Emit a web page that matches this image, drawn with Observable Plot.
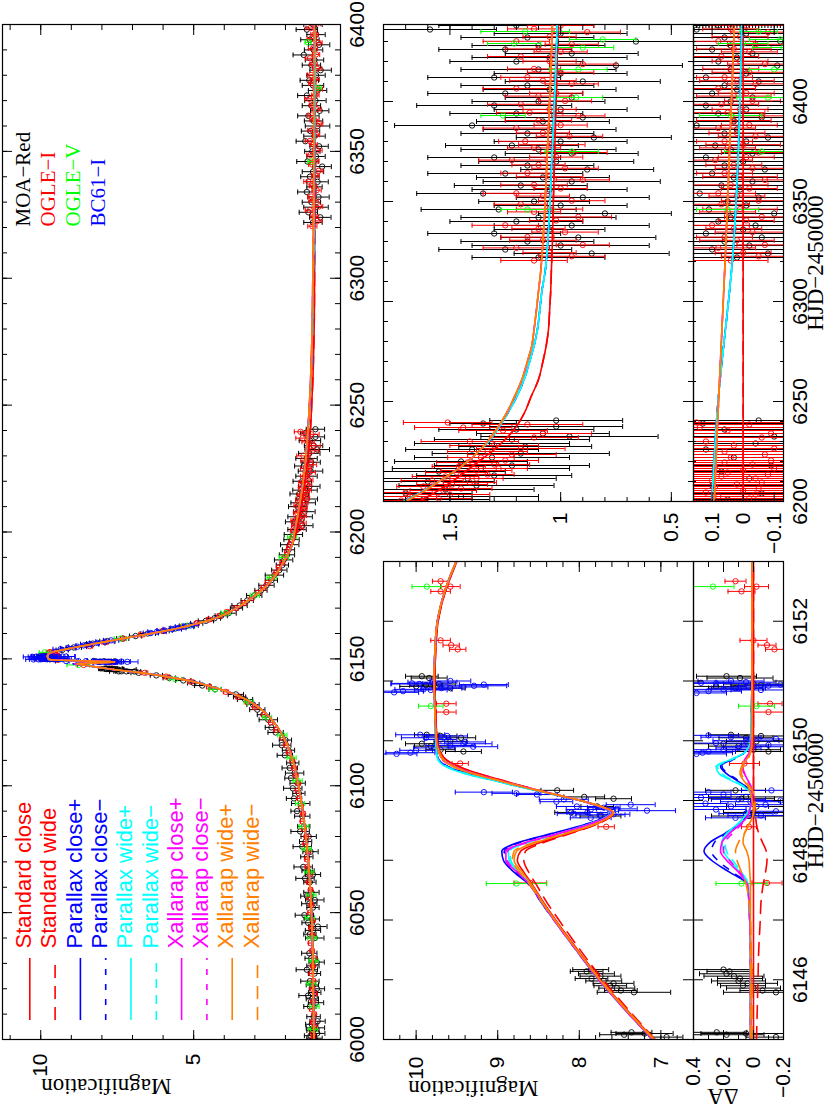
<!DOCTYPE html>
<html><head><meta charset="utf-8">
<script src="https://cdn.jsdelivr.net/npm/d3@7"></script>
<script src="https://cdn.jsdelivr.net/npm/@observablehq/plot@0.6"></script>
<style>
html,body{margin:0;padding:0;background:#fff;overflow:hidden;width:830px;height:1107px;}
#fig{position:absolute;left:0;top:0;width:1107px;height:830px;transform-origin:0 0;transform:translate(0px,1107px) rotate(-90deg);background:#fff;}
</style></head><body><div id="fig"></div>
<script>
// ---------------- categories ----------------
const modelNames = ["Standard close","Standard wide","Parallax close+","Parallax close\u2212","Parallax wide+","Parallax wide\u2212","Xallarap close+","Xallarap close\u2212","Xallarap wide+","Xallarap wide\u2212"];
const modelColors = ["#ff0000","#ff0000","#0000ff","#0000ff","#00ffff","#00ffff","#ff00ff","#ff00ff","#ff8000","#ff8000"];
const dataNames = ["MOA\u2212Red","OGLE\u2212I","OGLE\u2212V","BC61\u2212I"];
const dataColors = ["#000000","#ff0000","#00ff00","#0000ff"];

// ---------------- tick labels ----------------
const ticksA_x = [6000,6050,6100,6150,6200,6250,6300,6350,6400];
const ticksA_y = [5,10];
const ticksC_xlab = [6146,6148,6150,6152];
const ticksC_x = [6145,6146,6147,6148,6149,6150,6151,6152,6153];
const ticksC_y = [7,8,9,10];
const ticksCr_y = [-0.2,0,0.2,0.4];
const ticksB_x = [6200,6250,6300,6350,6400];
const ticksB_y = [0.5,1,1.5];
const ticksBr_y = [-0.1,0,0.1];

// ---------------- model curves ----------------
const lcPre_t = [6000,6020,6040,6060,6075,6085,6095,6105,6115,6122,6128,6132,6136,6139,6141,6143,6144.5];
const lcPre_A = [1.07,1.09,1.12,1.19,1.29,1.38,1.50,1.66,1.90,2.20,2.60,3.00,3.65,4.40,5.00,5.90,6.70];
const lcPost_t = [6153.5,6154.5,6155.5,6156.5,6158,6160,6162,6164,6166,6168,6170,6173,6177,6181,6185,6190,6195];
const lcPost_A = [9.30,8.90,8.45,8.00,7.30,6.40,5.55,4.85,4.30,3.90,3.60,3.22,2.78,2.45,2.22,1.98,1.78];

const tGridC = [6145.0,6145.5,6146.0,6146.5,6147.0,6147.3,6147.6,6147.8,6148.0,6148.15,6148.3,6148.45,6148.6,6148.7,6148.8,6148.9,6149.0,6149.13,6149.25,6149.35,6149.45,6149.57,6149.68,6149.8,6150.0,6150.5,6151.0,6151.5,6152.0,6152.5,6153.0];
const magC_stdClose = [7.08,7.42,7.74,8.02,8.29,8.44,8.58,8.68,8.76,8.72,8.47,8.12,7.80,7.65,7.58,7.74,7.98,8.38,8.72,8.98,9.24,9.48,9.63,9.70,9.74,9.76,9.77,9.76,9.73,9.64,9.50];
const magC_stdWide = [7.07,7.40,7.71,7.99,8.25,8.40,8.53,8.62,8.68,8.66,8.43,8.10,7.79,7.64,7.57,7.73,7.98,8.38,8.72,8.98,9.24,9.48,9.63,9.70,9.74,9.76,9.77,9.76,9.73,9.64,9.50];
const magC_parCloseP = [7.10,7.44,7.76,8.04,8.31,8.47,8.62,8.80,8.93,8.95,8.74,8.33,7.93,7.72,7.62,7.76,7.99,8.41,8.79,9.08,9.37,9.62,9.72,9.75,9.76,9.77,9.78,9.77,9.74,9.65,9.51];
const magC_parCloseM = [7.10,7.44,7.76,8.04,8.31,8.47,8.61,8.78,8.90,8.92,8.72,8.30,7.91,7.71,7.61,7.76,7.99,8.40,8.78,9.07,9.36,9.61,9.72,9.75,9.76,9.77,9.78,9.77,9.74,9.65,9.51];
const magC_parWideP = [7.10,7.44,7.76,8.04,8.31,8.46,8.60,8.74,8.86,8.87,8.63,8.25,7.89,7.70,7.61,7.75,7.99,8.41,8.80,9.10,9.40,9.64,9.73,9.75,9.76,9.77,9.78,9.77,9.74,9.65,9.51];
const magC_parWideM = [7.10,7.44,7.76,8.04,8.31,8.46,8.60,8.73,8.84,8.85,8.62,8.24,7.88,7.70,7.61,7.75,7.99,8.40,8.79,9.09,9.39,9.63,9.73,9.75,9.76,9.77,9.78,9.77,9.74,9.65,9.51];
const magC_xalCloseP = [7.10,7.44,7.76,8.04,8.31,8.46,8.61,8.76,8.90,8.90,8.65,8.25,7.88,7.69,7.60,7.75,7.99,8.39,8.74,9.02,9.29,9.53,9.67,9.72,9.75,9.77,9.78,9.77,9.74,9.65,9.51];
const magC_xalCloseM = [7.10,7.44,7.76,8.04,8.31,8.46,8.60,8.75,8.88,8.88,8.63,8.23,7.87,7.68,7.60,7.75,7.99,8.39,8.74,9.02,9.29,9.54,9.68,9.72,9.75,9.77,9.78,9.77,9.74,9.65,9.51];
const magC_xalWideP = [7.09,7.43,7.75,8.03,8.30,8.45,8.59,8.70,8.80,8.77,8.53,8.16,7.82,7.66,7.58,7.74,7.99,8.40,8.76,9.04,9.31,9.55,9.67,9.72,9.75,9.77,9.78,9.77,9.74,9.65,9.51];
const magC_xalWideM = [7.08,7.42,7.74,8.03,8.30,8.46,8.61,8.73,8.82,8.80,8.55,8.17,7.82,7.66,7.58,7.73,7.98,8.38,8.75,9.03,9.30,9.54,9.66,9.71,9.75,9.77,9.78,9.77,9.74,9.65,9.51];

const resC_stdClose = [0,0,0,0,0,0,0,0,0,0,0,0,0,0,0,0,0,0,0,0,0,0,0,0,0,0,0,0,0,0,0];
const resC_stdWide = [-0.02,-0.025,-0.03,-0.035,-0.045,-0.05,-0.065,-0.08,-0.09,-0.085,-0.06,-0.035,-0.02,-0.015,-0.01,-0.01,-0.005,0,0,0,0,0,0,0,0,0,0,0,0,0,0];
const resC_parCloseP = [0.02,0.02,0.02,0.02,0.025,0.03,0.04,0.16,0.28,0.33,0.29,0.19,0.10,0.06,0.03,0.02,0.01,0.02,0.06,0.12,0.18,0.22,0.15,0.06,0.02,0.015,0.01,0.01,0.01,0.01,0.01];
const resC_parCloseM = [0.02,0.02,0.02,0.02,0.025,0.03,0.04,0.14,0.24,0.28,0.26,0.18,0.09,0.055,0.03,0.02,0.01,0.02,0.06,0.11,0.17,0.21,0.14,0.06,0.02,0.015,0.01,0.01,0.01,0.01,0.01];
const resC_parWideP = [0.02,0.02,0.02,0.02,0.025,0.03,0.035,0.09,0.16,0.20,0.21,0.18,0.11,0.07,0.04,0.02,0.01,0.02,0.08,0.16,0.23,0.25,0.16,0.06,0.02,0.015,0.01,0.01,0.01,0.01,0.01];
const resC_parWideM = [0.02,0.02,0.02,0.02,0.025,0.03,0.035,0.08,0.14,0.18,0.19,0.16,0.10,0.06,0.035,0.02,0.01,0.02,0.07,0.15,0.21,0.24,0.15,0.06,0.02,0.015,0.01,0.01,0.01,0.01,0.01];
const resC_xalCloseP = [0.02,0.02,0.02,0.02,0.025,0.03,0.045,0.10,0.18,0.22,0.21,0.16,0.09,0.05,0.03,0.02,0.01,0.01,0.02,0.04,0.06,0.07,0.05,0.03,0.015,0.01,0.01,0.01,0.01,0.01,0.01];
const resC_xalCloseM = [0.02,0.02,0.02,0.02,0.025,0.03,0.04,0.09,0.16,0.20,0.19,0.14,0.08,0.045,0.03,0.02,0.01,0.01,0.02,0.04,0.06,0.08,0.06,0.03,0.015,0.01,0.01,0.01,0.01,0.01,0.01];
const resC_xalWideP = [0.02,0.02,0.02,0.02,0.02,0.02,0.02,0.025,0.03,0.045,0.07,0.06,0.03,0.01,0,0,0.01,0.02,0.04,0.07,0.09,0.08,0.05,0.02,0.01,0.01,0.01,0.01,0.01,0.01,0.01];
const resC_xalWideM = [0.01,0.01,0.01,0.015,0.02,0.03,0.05,0.08,0.11,0.12,0.10,0.06,0.03,0.01,0,-0.01,-0.01,0,0.03,0.06,0.08,0.07,0.04,0.02,0.01,0.01,0.01,0.01,0.01,0.01,0.01];

const tGridB = [6200,6205,6210,6215,6220,6225,6230,6236,6244,6252,6261,6270,6278,6286,6295,6305,6315,6330,6350,6370,6390,6410,6440];
const magB_std = [1.64,1.56,1.49,1.43,1.37,1.31,1.26,1.21,1.165,1.135,1.10,1.08,1.065,1.055,1.05,1.045,1.042,1.037,1.033,1.028,1.023,1.018,1.012];
const magB_par = [1.71,1.625,1.55,1.48,1.42,1.37,1.325,1.285,1.24,1.20,1.165,1.14,1.12,1.105,1.095,1.085,1.07,1.058,1.048,1.04,1.032,1.024,1.015];
const magB_xal = [1.70,1.62,1.55,1.48,1.42,1.37,1.33,1.29,1.245,1.21,1.175,1.15,1.13,1.12,1.11,1.10,1.09,1.08,1.07,1.062,1.054,1.046,1.037];
const tGridBr = [6200,6244,6324,6440];
const resB_std = [0,0,0,0];
const resB_par = [0.101,0.084,0.033,0.004];
const resB_xal = [0.093,0.081,0.057,0.028];

// ---------------- data [HJD, A, error] ----------------
const moa = [
[6000.5,1.05,0.25],[6001.5,1.18,0.2],[6002.4,0.96,0.25],[6003.5,1.1,0.2],[6004.6,1.02,0.3],[6006,1.14,0.2],[6007.2,0.95,0.25],[6009,1.08,0.22],[6013,1.2,0.2],[6014.5,1.0,0.25],[6016,1.12,0.2],[6017.3,1.26,0.3],[6018.5,1.04,0.2],[6020,0.97,0.25],[6021.5,1.12,0.2],[6023,1.2,0.3],[6026,1.05,0.2],[6027.5,1.3,0.35],[6029,1.1,0.2],[6030.5,0.98,0.25],[6032,1.16,0.2],[6034,1.22,0.25],[6040,1.04,0.3],[6041.5,1.2,0.2],[6043,1.1,0.25],[6044.5,0.94,0.3],[6046,1.26,0.2],[6047.5,1.14,0.25],[6049,1.38,0.3],[6052,1.1,0.2],[6053.5,1.22,0.25],[6055,1.04,0.3],[6056.5,1.3,0.2],[6058,1.15,0.25],[6062,1.2,0.2],[6063.5,1.36,0.3],[6065,1.1,0.25],[6066.5,1.26,0.2],[6068,1.42,0.3],[6072,1.3,0.2],[6074,1.18,0.25],[6076,1.45,0.3],[6078,1.34,0.2],[6080,1.24,0.25],[6082,1.52,0.3],[6084,1.4,0.2],
[6088,1.45,0.25],[6090,1.62,0.2],[6093,1.5,0.3],[6095,1.72,0.25],[6097,1.56,0.2],[6099,1.76,0.3],[6101,1.6,0.25],[6103,1.82,0.2],[6105,1.7,0.3],[6107,1.86,0.25],[6109,1.76,0.2],[6112,2.02,0.25],[6114,1.9,0.2],[6116,2.12,0.3],[6118,2.0,0.2],[6121,2.32,0.25],[6123,2.46,0.2],[6126,2.56,0.3],[6128,2.72,0.2],[6130,2.92,0.25],[6132,3.06,0.2],[6134,3.32,0.25],[6135,3.5,0.2],[6136,3.62,0.25],[6138,4.3,0.2],[6139.5,4.72,0.25],[6140.5,5.0,0.2],[6141.5,5.34,0.25],[6142.5,5.8,0.2],[6143.5,6.22,0.2],[6144.5,6.8,0.25],
[6145.04,6.93,0.2],[6145.08,7.45,0.3],[6145.10,7.2,0.35],[6145.12,7.36,0.25],
[6145.79,7.33,0.45],[6145.82,7.49,0.2],[6145.86,7.54,0.22],[6145.90,7.62,0.2],[6145.94,7.58,0.25],[6145.98,7.70,0.22],[6146.02,7.85,0.2],[6146.06,7.74,0.25],[6146.10,7.79,0.22],[6146.14,7.91,0.2],[6146.17,7.86,0.22],
[6148.74,7.74,0.25],[6148.80,8.1,0.2],[6148.90,7.78,0.2],[6149.03,7.58,0.22],[6149.06,7.94,0.25],[6149.17,8.27,0.2],
[6149.82,9.42,0.22],[6149.85,9.7,0.18],[6149.91,9.82,0.2],[6149.95,9.93,0.2],[6149.99,9.58,0.2],[6150.05,9.45,0.18],[6150.08,9.7,0.2],[6150.10,9.87,0.15],
[6150.88,9.58,0.18],[6150.91,10.0,0.2],[6150.93,9.88,0.2],[6150.95,9.72,0.2],[6151.05,9.84,0.22],[6151.08,9.93,0.2],
[6153.5,9.3,0.2],[6154.5,8.92,0.25],[6155.5,8.5,0.2],[6156,8.3,0.2],[6157,7.82,0.25],[6158,7.32,0.2],[6159,6.9,0.2],[6160,6.5,0.25],[6161,6.0,0.2],[6162,5.6,0.2],[6163,5.22,0.25],[6164,4.9,0.2],[6165,4.6,0.25],[6166,4.32,0.2],[6167,4.1,0.2],[6168,3.86,0.25],[6170,3.6,0.2],[6171,3.5,0.25],[6173,3.25,0.2],[6175,3.02,0.25],[6177,2.8,0.2],[6179,2.62,0.25],[6181,2.46,0.2],[6183,2.36,0.3],[6185,2.2,0.25],[6187,2.1,0.2],[6189,2.06,0.3],[6191,1.95,0.25],[6193,1.9,0.2],[6195,1.86,0.3],[6197,1.8,0.25],[6199,1.74,0.3],
[6201,1.62,0.3],[6202.5,1.45,0.35],[6204,1.7,0.3],[6206,1.52,0.4],[6208,1.38,0.35],[6210,1.6,0.3],[6211.5,1.42,0.4],[6213,1.3,0.35],[6215,1.55,0.3],[6216.5,1.36,0.4],[6218,1.22,0.35],[6220,1.45,0.3],[6222,1.31,0.35],[6224,1.18,0.4],[6226,1.4,0.3],[6227.5,1.16,0.3],[6229,1.31,0.35],[6231,1.22,0.35],[6232.5,0.96,0.4],[6234,1.08,0.3],[6236,1.2,0.35],[6237.5,1.02,0.3],[6239,1.35,0.15],[6240.5,1.02,0.3],
[6322,1.1,0.3],[6324,0.86,0.35],[6326,1.25,0.3],[6328,1.0,0.4],[6330,1.15,0.3],[6332,0.92,0.35],[6334,1.3,0.3],[6336,1.05,0.25],[6338,0.95,0.35],[6340,1.2,0.3],[6342,1.1,0.35],[6344,0.8,0.3],[6346,1.28,0.35],[6348,1.0,0.3],[6350,1.12,0.25],[6352,0.9,0.3],[6354,1.35,0.3],[6356,1.05,0.35],[6358,1.18,0.3],[6360,0.95,0.4],[6362,1.08,0.3],[6364,1.25,0.35],[6366,0.88,0.3],[6368,1.15,0.3],[6370,1.02,0.35],[6372,1.3,0.3],[6374,0.95,0.3],[6376,1.1,0.35],[6378,1.22,0.3],[6380,1.0,0.3],[6382,0.85,0.35],[6384,1.15,0.3],[6386,1.05,0.3],[6388,1.4,0.35],[6390,1.08,0.3],[6392,0.9,0.35],[6394,1.2,0.3],[6396,1.0,0.3],[6398,1.3,0.35],[6400,1.1,0.3],[6402,0.95,0.3],[6404,1.25,0.35],[6406,1.05,0.3],[6408,1.15,0.3],[6410,0.9,0.35],[6412,1.3,0.3],[6414,1.0,0.3],[6416,1.1,0.35],[6418,0.75,0.3],[6420,1.2,0.3],[6422,1.05,0.35],[6424,0.95,0.3],[6426,1.25,0.3],[6428,1.1,0.3],[6430,0.66,0.35],[6432,1.15,0.3],[6434,1.0,0.3],[6436,1.59,0.3],[6438,1.2,0.35]
];
const ogleI = [
[6001,1.08,0.06],[6003,1.12,0.06],[6005,1.05,0.07],[6007,1.1,0.06],[6010,1.06,0.06],[6012,1.14,0.07],[6015,1.09,0.06],[6018,1.04,0.06],[6020,1.12,0.07],[6023,1.08,0.06],[6026,1.15,0.06],[6029,1.1,0.07],[6032,1.06,0.06],[6035,1.13,0.06],[6038,1.18,0.07],[6041,1.12,0.06],[6044,1.16,0.06],[6047,1.1,0.07],[6050,1.2,0.06],[6053,1.15,0.06],[6056,1.22,0.07],[6059,1.18,0.06],[6062,1.25,0.06],[6065,1.2,0.07],[6068,1.28,0.06],[6071,1.3,0.06],[6074,1.26,0.07],[6077,1.35,0.06],[6080,1.32,0.06],[6083,1.4,0.07],[6086,1.45,0.06],[6089,1.42,0.06],[6092,1.5,0.07],[6095,1.55,0.06],[6098,1.6,0.06],[6101,1.58,0.07],[6104,1.66,0.06],[6107,1.72,0.06],[6110,1.78,0.07],[6113,1.88,0.06],[6116,1.98,0.06],[6119,2.1,0.07],[6122,2.3,0.06],[6125,2.48,0.07],[6128,2.7,0.06],[6131,3.0,0.07],[6133,3.25,0.06],[6135,3.55,0.07],[6137,3.95,0.08],[6139,4.5,0.08],[6141,5.1,0.1],[6143,5.9,0.1],[6144.5,6.6,0.1],
[6147.62,8.6,0.2],[6148.56,7.67,0.1],[6149.62,9.46,0.1],[6150.48,9.63,0.12],[6150.62,9.63,0.12],[6151.53,9.49,0.1],[6151.6,9.57,0.1],[6151.68,9.7,0.12],[6152.5,9.7,0.12],[6152.58,9.58,0.12],[6152.67,9.7,0.1],
[6155,8.4,0.1],[6156.5,7.9,0.1],[6158,7.3,0.1],[6159.5,6.7,0.1],[6161,6.0,0.1],[6162.5,5.4,0.08],[6164,4.9,0.08],[6165.5,4.5,0.08],[6167,4.15,0.08],[6168.5,3.9,0.08],[6170,3.62,0.07],[6172,3.35,0.07],[6174,3.1,0.07],[6176,2.9,0.07],[6178,2.72,0.07],[6180,2.58,0.07],[6182,2.45,0.07],[6184,2.3,0.07],[6186,2.22,0.07],[6188,2.1,0.07],[6190,2.02,0.07],[6192,1.95,0.07],[6194,1.88,0.07],[6196,1.82,0.07],[6198,1.76,0.07],
[6200.5,1.72,0.12],[6201.5,1.55,0.15],[6202.5,1.68,0.12],[6203.5,1.5,0.18],[6204.5,1.7,0.12],[6205.5,1.53,0.15],[6206.5,1.45,0.14],[6207.5,1.62,0.12],[6208.5,1.49,0.16],[6209.5,1.41,0.12],[6210.5,1.58,0.14],[6211.5,1.38,0.12],[6212.5,1.52,0.15],[6213.5,1.33,0.12],[6214.5,1.47,0.14],[6215.5,1.38,0.16],[6216.5,1.28,0.13],[6217.5,1.46,0.12],[6218.5,1.3,0.16],[6219.5,1.42,0.14],[6220.5,1.25,0.15],[6222,1.36,0.15],[6223.5,1.22,0.2],[6225,1.33,0.18],[6226.5,1.18,0.2],[6228,1.3,0.2],[6230,1.41,0.22],[6232,1.12,0.2],[6234,1.08,0.22],[6235.5,1.26,0.2],[6237,1.44,0.22],[6238.5,1.15,0.25],[6239.5,1.51,0.2],
[6320.5,1.12,0.15],[6322.6,0.95,0.15],[6324.4,1.05,0.12],[6326.8,1.2,0.15],[6328.3,0.9,0.12],[6330.6,1.08,0.15],[6332.2,1.15,0.12],[6334.7,0.98,0.15],[6336.4,1.1,0.12],[6338.1,1.25,0.15],[6340.5,1.02,0.12],[6342.3,0.92,0.15],[6344.8,1.12,0.12],[6346.2,1.05,0.15],[6348.6,1.18,0.12],[6350.4,0.95,0.15],[6352.7,1.08,0.12],[6354.1,1.2,0.15],[6356.5,1.0,0.12],[6358.3,1.12,0.15],[6360.8,0.9,0.12],[6362.4,1.05,0.15],[6364.2,1.15,0.12],[6366.6,0.98,0.15],[6368.3,1.1,0.12],[6370.7,1.22,0.15],[6372.2,1.02,0.12],[6374.5,0.94,0.15],[6376.8,1.12,0.12],[6378.4,1.04,0.15],[6380.1,1.16,0.12],[6382.6,0.96,0.15],[6384.3,1.08,0.12],[6386.7,1.2,0.15],[6388.2,1.0,0.12],[6390.5,1.1,0.15],[6392.8,0.92,0.12],[6394.4,1.14,0.15],[6396.1,1.05,0.12],[6398.6,1.18,0.15],[6400.3,0.98,0.12],[6402.7,1.1,0.15],[6404.2,1.02,0.12],[6406.5,1.2,0.15],[6408.8,0.95,0.12],[6410.4,1.08,0.15],[6412.1,1.15,0.12],[6414.6,1.0,0.15],[6416.3,1.12,0.12],[6418.7,0.9,0.15],[6420.2,1.05,0.12],[6422.5,1.18,0.15],[6424.8,1.0,0.12],[6426.3,1.1,0.15],[6428.6,0.95,0.12],[6430.1,1.2,0.15],[6432.4,1.05,0.12],[6434.7,0.88,0.15],[6436.3,1.12,0.12],[6438.0,1.0,0.15]
];
const ogleV = [
[6004,1.1,0.15],[6013,1.05,0.15],[6022,1.15,0.15],[6031,1.08,0.15],[6040,1.12,0.15],[6048,1.2,0.15],[6057,1.15,0.15],[6066,1.22,0.15],[6075,1.3,0.15],[6084,1.4,0.15],[6093,1.52,0.15],[6102,1.6,0.15],[6111,1.8,0.15],[6120,2.1,0.15],[6127,2.6,0.15],[6133,3.2,0.15],[6138,4.3,0.2],[6142,5.6,0.2],[6147.61,8.77,0.37],[6150.58,9.82,0.15],[6152.58,9.87,0.18],[6158,7.4,0.2],[6163,5.2,0.2],[6168,3.95,0.15],[6175,3.0,0.15],[6182,2.45,0.15],[6190,2.05,0.15],[6198,1.78,0.15],
[6346,1.15,0.12],[6375,0.95,0.12],[6393,1.26,0.1],[6402,0.93,0.12],[6416,0.92,0.13],[6427,0.9,0.14],[6429,1.21,0.12],[6431,0.81,0.15],[6435,1.16,0.2]
];
const bc61 = [
[6148.71,7.86,0.25],[6148.76,7.74,0.3],[6148.77,7.58,0.2],[6148.78,8.07,0.2],[6148.80,7.9,0.25],[6148.83,7.17,0.35],[6148.85,7.86,0.3],[6148.86,7.54,0.25],[6148.88,7.7,0.2],[6148.90,8.03,0.25],[6148.93,7.37,0.3],[6148.98,8.28,0.2],[6149.02,8.19,0.3],[6149.10,8.52,0.25],[6149.12,8.77,0.3],[6149.14,9.17,0.35],
[6149.78,10.24,0.25],[6149.80,10.07,0.3],[6149.84,10.0,0.2],[6149.88,9.78,0.25],[6149.90,9.3,0.3],[6149.92,9.58,0.3],[6149.95,9.42,0.35],[6149.98,9.4,0.25],[6150.02,9.7,0.2],[6150.05,9.88,0.3],[6150.08,9.62,0.25],[6150.10,9.95,0.3],
[6150.81,10.27,0.3],[6150.83,10.16,0.25],[6150.85,9.82,0.2],[6150.86,9.91,0.35],[6150.88,9.69,0.25],[6150.90,9.42,0.3],[6150.92,9.29,0.4],[6150.94,9.17,0.3],[6150.95,9.96,0.35],[6150.96,10.05,0.25],[6150.98,9.8,0.3],[6151.00,9.58,0.25],
[6153.8,9.35,0.25],[6154.2,9.1,0.25],[6154.8,8.8,0.3],[6155.3,8.6,0.25],[6155.8,8.4,0.3],[6156.3,8.15,0.25],[6156.8,7.9,0.3],[6157.3,7.7,0.25],[6160.2,6.4,0.25],[6160.7,6.2,0.3],[6161.2,5.95,0.25],[6161.7,5.7,0.3],[6162.2,5.5,0.25],[6162.7,5.3,0.3],[6163.2,5.1,0.25]
];

// ---------------- residuals [HJD, dA, error] ----------------
const moaResC = [[6145.04,-0.15,0.2],[6145.08,0.18,0.25],[6145.10,0.05,0.3],[6145.12,0.245,0.2],[6145.79,-0.15,0.35],[6145.82,-0.06,0.15],[6145.86,0.0,0.18],[6145.90,0.07,0.15],[6145.94,0.04,0.2],[6145.98,0.1,0.18],[6146.02,0.09,0.15],[6146.06,0.13,0.2],[6146.10,0.18,0.18],[6146.14,0.16,0.15],[6146.17,0.2,0.2],[6148.74,0.03,0.25],[6148.80,0.0,0.2],[6148.90,-0.02,0.2],[6149.03,0.08,0.22],[6149.06,0.05,0.25],[6149.17,0.12,0.2],[6149.82,-0.1,0.22],[6149.85,0.0,0.18],[6149.91,0.1,0.2],[6149.95,0.2,0.2],[6149.99,-0.02,0.2],[6150.05,0.05,0.18],[6150.08,-0.05,0.2],[6150.10,0.15,0.15],[6150.88,0.12,0.18],[6150.91,0.25,0.2],[6150.93,-0.05,0.2],[6150.95,0.0,0.2],[6151.05,0.09,0.22],[6151.08,0.18,0.2]];
const ogleResC = [[6147.62,-0.09,0.1],[6148.56,0.03,0.05],[6149.62,0.06,0.1],[6150.48,-0.1,0.1],[6150.62,-0.11,0.08],[6151.53,-0.14,0.06],[6151.6,-0.09,0.06],[6151.68,0.0,0.09],[6152.5,0.08,0.09],[6152.58,-0.02,0.08],[6152.67,0.12,0.07]];
const vResC = [[6147.61,0.08,0.17],[6150.58,-0.02,0.12],[6152.58,0.27,0.14]];
const bcResC = [[6148.71,0.12,0.2],[6148.75,-0.05,0.22],[6148.78,0.05,0.18],[6148.82,-0.15,0.2],[6148.85,0.25,0.2],[6148.9,0.15,0.25],[6148.93,-0.08,0.2],[6148.95,0.32,0.15],[6148.98,0.02,0.2],[6149.0,-0.18,0.2],[6149.02,0.1,0.18],[6149.05,0.35,0.2],[6149.1,0.2,0.2],[6149.14,0.3,0.15],[6149.17,-0.12,0.2],
[6149.78,0.38,0.2],[6149.8,0.34,0.2],[6149.82,0.3,0.18],[6149.85,0.2,0.2],[6149.88,0.1,0.15],[6149.9,0.0,0.2],[6149.93,-0.1,0.18],[6149.96,0.25,0.2],[6150.0,0.05,0.22],[6150.03,-0.15,0.2],[6150.06,0.15,0.2],[6150.09,0.3,0.2],
[6150.8,0.38,0.2],[6150.83,0.3,0.22],[6150.85,-0.05,0.2],[6150.86,0.2,0.2],[6150.88,0.1,0.18],[6150.9,0.0,0.2],[6150.92,-0.1,0.2],[6150.94,-0.18,0.2],[6150.96,0.25,0.25],[6150.97,0.35,0.2],[6150.98,0.05,0.2],[6151.0,0.15,0.22]];

const moaResB = [[6201,0.05,0.5],[6204,-0.06,0.45],[6208,0.1,0.5],[6211.5,-0.02,0.45],[6215,0.07,0.5],[6218,-0.09,0.5],[6222,0.03,0.45],[6226,0.12,0.5],[6229,-0.04,0.45],[6232.5,-0.1,0.5],[6236,0.06,0.45],[6239,0.13,0.3],[6240.5,-0.05,0.4],
[6322,0.02,0.4],[6324,-0.08,0.45],[6326,0.1,0.4],[6328,-0.02,0.5],[6330,0.06,0.4],[6332,-0.06,0.45],[6334,0.12,0.4],[6336,0.0,0.35],[6338,-0.04,0.45],[6340,0.08,0.4],[6342,0.04,0.45],[6344,-0.1,0.4],[6346,0.11,0.45],[6348,-0.01,0.4],[6350,0.05,0.35],[6352,-0.05,0.4],[6354,0.14,0.4],[6356,0.01,0.45],[6358,0.07,0.4],[6360,-0.03,0.5],[6362,0.03,0.4],[6364,0.1,0.45],[6366,-0.07,0.4],[6368,0.06,0.4],[6370,0.0,0.45],[6372,0.12,0.4],[6374,-0.03,0.4],[6376,0.04,0.45],[6378,0.09,0.4],[6380,-0.01,0.4],[6382,-0.08,0.45],[6384,0.06,0.4],[6386,0.02,0.4],[6388,0.15,0.45],[6390,0.03,0.4],[6392,-0.06,0.45],[6394,0.08,0.4],[6396,-0.01,0.4],[6398,0.12,0.45],[6400,0.04,0.4],[6402,-0.03,0.4],[6404,0.1,0.45],[6406,0.02,0.4],[6408,0.06,0.4],[6410,-0.05,0.45],[6412,0.12,0.4],[6414,-0.01,0.4],[6416,0.04,0.45],[6418,-0.11,0.4],[6420,0.08,0.4],[6422,0.02,0.45],[6424,-0.03,0.4],[6426,0.1,0.4],[6428,0.04,0.4],[6430,-0.12,0.45],[6432,0.06,0.4],[6434,-0.01,0.4],[6436,0.15,0.4],[6438,0.08,0.45]];
const ogleResB = [[6200.5,0.1,0.3],[6201.5,-0.02,0.3],[6202.5,0.08,0.25],[6203.5,-0.04,0.3],[6204.5,0.12,0.25],[6205.5,0.0,0.3],[6206.5,-0.05,0.28],[6207.5,0.09,0.25],[6208.5,0.02,0.3],[6209.5,-0.06,0.25],[6210.5,0.1,0.28],[6211.5,-0.04,0.25],[6212.5,0.07,0.3],[6213.5,-0.08,0.25],[6214.5,0.05,0.28],[6215.5,0.0,0.3],[6216.5,-0.1,0.26],[6217.5,0.09,0.25],[6218.5,-0.03,0.3],[6219.5,0.06,0.28],[6220.5,-0.09,0.3],[6222,0.04,0.3],[6223.5,-0.07,0.35],[6225,0.06,0.32],[6226.5,-0.1,0.35],[6228,0.03,0.35],[6230,0.12,0.35],[6232,-0.06,0.35],[6234,-0.09,0.35],[6235.5,0.05,0.35],[6237,0.14,0.35],[6238.5,-0.02,0.38],[6239.5,0.15,0.35],
[6320.5,0.04,0.12],[6322.6,-0.05,0.12],[6324.4,0.0,0.09],[6326.8,0.08,0.12],[6328.3,-0.07,0.09],[6330.6,0.02,0.12],[6332.2,0.06,0.09],[6334.7,-0.03,0.12],[6336.4,0.03,0.09],[6338.1,0.1,0.12],[6340.5,-0.01,0.09],[6342.3,-0.06,0.12],[6344.8,0.05,0.09],[6346.2,0.01,0.12],[6348.6,0.07,0.09],[6350.4,-0.05,0.12],[6352.7,0.02,0.09],[6354.1,0.08,0.12],[6356.5,-0.02,0.09],[6358.3,0.04,0.12],[6360.8,-0.07,0.09],[6362.4,0.01,0.12],[6364.2,0.06,0.09],[6366.6,-0.03,0.12],[6368.3,0.03,0.09],[6370.7,0.09,0.12],[6372.2,-0.01,0.09],[6374.5,-0.05,0.12],[6376.8,0.05,0.09],[6378.4,0.0,0.12],[6380.1,0.06,0.09],[6382.6,-0.04,0.12],[6384.3,0.02,0.09],[6386.7,0.08,0.12],[6388.2,-0.02,0.09],[6390.5,0.03,0.12],[6392.8,-0.06,0.09],[6394.4,0.05,0.12],[6396.1,0.01,0.09],[6398.6,0.07,0.12],[6400.3,-0.03,0.09],[6402.7,0.03,0.12],[6404.2,-0.01,0.09],[6406.5,0.08,0.12],[6408.8,-0.04,0.09],[6410.4,0.02,0.12],[6412.1,0.06,0.09],[6414.6,-0.02,0.12],[6416.3,0.04,0.09],[6418.7,-0.07,0.12],[6420.2,0.01,0.09],[6422.5,0.07,0.12],[6424.8,-0.02,0.09],[6426.3,0.03,0.12],[6428.6,-0.04,0.09],[6430.1,0.08,0.12],[6432.4,0.01,0.09],[6434.7,-0.08,0.12],[6436.3,0.04,0.09],[6438.0,-0.01,0.12]];
const vResB = [[6346,0.05,0.1],[6375,-0.06,0.12],[6393,0.04,0.1],[6402,-0.08,0.1],[6416,-0.1,0.08],[6427,-0.13,0.1],[6429,0.0,0.08],[6431,-0.12,0.1],[6435,-0.05,0.06]];

// ---------------- styles ----------------
const SANS = "'Liberation Sans', Arial, Helvetica, sans-serif";
const SERIF = "'Liberation Serif', 'Times New Roman', serif";
const FS = 21;
const modelDash = [null,"13,8",null,"6,9",null,"9,7",null,"6,9",null,"13,8"];

const magC = [magC_stdClose,magC_stdWide,magC_parCloseP,magC_parCloseM,magC_parWideP,magC_parWideM,magC_xalCloseP,magC_xalCloseM,magC_xalWideP,magC_xalWideM];
const resC = [resC_stdClose,resC_stdWide,resC_parCloseP,resC_parCloseM,resC_parWideP,resC_parWideM,resC_xalCloseP,resC_xalCloseM,resC_xalWideP,resC_xalWideM];
const magB = [magB_std,magB_std,magB_par,magB_par,magB_par,magB_par,magB_xal,magB_xal,magB_xal,magB_xal];
const resB = [resB_std,resB_std,resB_par,resB_par,resB_par,resB_par,resB_xal,resB_xal,resB_xal,resB_xal];

const fig = document.getElementById("fig");
const fmt = d => (d < 0 ? "\u2212" : "") + Math.abs(d);
const capSym = {draw(ctx, size){ const r = Math.sqrt(size/Math.PI); ctx.moveTo(-r,0); ctx.lineTo(r,0); }};

function place(svg, left, top){ svg.style.position="absolute"; svg.style.left=left+"px"; svg.style.top=top+"px"; fig.appendChild(svg); }

function frameTicks(g, xMaj, xMin, yMaj, yMin, L, l) {
  const ky = (g.yd[1]-g.yd[0])/g.ih, kx = (g.xd[1]-g.xd[0])/g.iw;
  const out = [];
  for (const [vals, len] of [[xMaj, L], [xMin, l]]) {
    out.push(Plot.ruleX(vals, {x: d=>d, y1: ()=>g.yd[0], y2: ()=>g.yd[0]+len*ky, stroke:"black"}));
    out.push(Plot.ruleX(vals, {x: d=>d, y1: ()=>g.yd[1], y2: ()=>g.yd[1]-len*ky, stroke:"black"}));
  }
  for (const [vals, len] of [[yMaj, L], [yMin, l]]) {
    out.push(Plot.ruleY(vals, {y: d=>d, x1: ()=>g.xd[0], x2: ()=>g.xd[0]+len*kx, stroke:"black"}));
    out.push(Plot.ruleY(vals, {y: d=>d, x1: ()=>g.xd[1], x2: ()=>g.xd[1]-len*kx, stroke:"black"}));
  }
  return out;
}
function dataMarks(arr, color) {
  const o = {stroke: color, clip: true};
  return [
    Plot.ruleX(arr, {x: d=>d[0], y1: d=>d[1]-d[2], y2: d=>d[1]+d[2], strokeWidth: 1, ...o}),
    Plot.dot(arr, {x: d=>d[0], y: d=>d[1]-d[2], symbol: capSym, r: 2.5, fill: "none", strokeWidth: 1, ...o}),
    Plot.dot(arr, {x: d=>d[0], y: d=>d[1]+d[2], symbol: capSym, r: 2.5, fill: "none", strokeWidth: 1, ...o}),
    Plot.dot(arr, {x: d=>d[0], y: d=>d[1], r: 2.7, fill: "none", strokeWidth: 0.9, ...o})
  ];
}
function modelLines(ts, list) {
  return list.map((vals, i) => Plot.line(ts.map((t,k)=>({t, v: vals[k]})), {
    x: "t", y: "v", stroke: modelColors[i], strokeWidth: 1.6,
    strokeDasharray: modelDash[i] || undefined, curve: "monotone-x", clip: true}));
}
function mkPlot(g, w, h, mr, mb, marks) {
  return Plot.plot({width: w, height: h, marginLeft: g.ml, marginRight: mr, marginTop: g.mt, marginBottom: mb,
    x: {domain: g.xd, axis: null, label: null}, y: {domain: g.yd, axis: null, label: null}, color: {type: "identity"},
    style: {background: "transparent", fontFamily: SANS, fontSize: FS+"px", overflow: "visible", color: "black"},
    marks});
}
const px2x = (g, px) => g.xd[0] + (px - g.ml) * (g.xd[1]-g.xd[0]) / g.iw;
const py2y = (g, py) => g.yd[1] - (py - g.mt) * (g.yd[1]-g.yd[0]) / g.ih;
const axX = (ticks) => Plot.axisX(ticks, {anchor: "bottom", tickSize: 0, tickPadding: 9, tickFormat: fmt, label: null});
const axY = (ticks, pad) => Plot.axisY(ticks, {anchor: "left", tickSize: 0, tickPadding: pad, tickFormat: fmt, label: null});

// ---------------- Panel A (full light curve) ----------------
const gA = {xd:[6000,6400], yd:[0.2,11.25], iw:1015, ih:338, ml:67, mt:2};
const tFull = [...lcPre_t, ...tGridC, ...lcPost_t, ...tGridB];
const fullCurves = magC.map((c, i) => [...lcPre_A, ...c, ...lcPost_A, ...magB[i]]);
const legendMarks = [];
modelNames.forEach((name, i) => {
  legendMarks.push(Plot.ruleY([0], {y: ()=>py2y(gA, 29.3+25.3*i), x1: ()=>px2x(gA,87), x2: ()=>px2x(gA,149),
    stroke: modelColors[i], strokeWidth: 1.6, strokeDasharray: modelDash[i] || undefined}));
  legendMarks.push(Plot.text([name], {x: ()=>px2x(gA,158), y: ()=>py2y(gA, 23.5+25.3*i), text: d=>d,
    fill: modelColors[i], textAnchor: "start", fontSize: 22, fontFamily: SANS}));
});
legendMarks.push(Plot.text(dataNames, {x: ()=>px2x(gA,880), y: (d,i)=>py2y(gA, 23+25*i), text: d=>d,
  fill: (d,i)=>dataColors[i], textAnchor: "start", fontSize: 21, fontFamily: SERIF}));

place(mkPlot(gA, 1107, 400, 25, 60, [
  ...dataMarks(moa, "black"), ...dataMarks(ogleI, "#ff0000"), ...dataMarks(ogleV, "#00ff00"), ...dataMarks(bc61, "#0000ff"),
  ...modelLines(tFull, fullCurves),
  ...legendMarks,
  Plot.frame({stroke: "black", strokeWidth: 1.2}),
  ...frameTicks(gA, ticksA_x, d3.range(6000, 6401, 10), ticksA_y, d3.range(1, 12), 10, 5),
  axX(ticksA_x), axY(ticksA_y, 14),
  Plot.text(["Magnification"], {frameAnchor: "left", dx: -47, rotate: -90, fontFamily: SERIF, fontSize: 23})
]), 0, 0);

// ---------------- Panel C (zoom on the anomaly) ----------------
const gCm = {xd:[6145,6153], yd:[6.6,10.4], iw:478, ih:310, ml:67, mt:10};
place(mkPlot(gCm, 555, 320, 10, 0, [
  ...dataMarks(moa, "black"), ...dataMarks(ogleI, "#ff0000"), ...dataMarks(ogleV, "#00ff00"), ...dataMarks(bc61, "#0000ff"),
  ...modelLines(tGridC, magC),
  Plot.frame({stroke: "black", strokeWidth: 1.2}),
  ...frameTicks(gCm, ticksC_x, [], ticksC_y, d3.range(33, 53).map(v=>v/5), 10, 5),
  axY(ticksC_y, 17),
  Plot.text(["Magnification"], {frameAnchor: "left", dx: -49, rotate: -90, fontFamily: SERIF, fontSize: 23})
]), 0, 373);

const gCr = {xd:[6145,6153], yd:[-0.2,0.4], iw:478, ih:90, ml:67, mt:0};
place(mkPlot(gCr, 555, 137, 10, 47, [
  ...dataMarks(moaResC, "black"), ...dataMarks(ogleResC, "#ff0000"), ...dataMarks(vResC, "#00ff00"), ...dataMarks(bcResC, "#0000ff"),
  ...modelLines(tGridC, resC),
  Plot.frame({stroke: "black", strokeWidth: 1.2}),
  ...frameTicks(gCr, ticksC_x, [], ticksCr_y, [-0.1,0.1,0.3], 10, 5),
  axX(ticksC_xlab), axY(ticksCr_y, 17),
  Plot.text(["\u0394A"], {frameAnchor: "left", dx: -57, rotate: -90, fontFamily: SERIF, fontSize: 23}),
  Plot.text(["HJD\u22122450000"], {frameAnchor: "bottom", dy: 39, fontFamily: SERIF, fontSize: 23})
]), 0, 693);

// ---------------- Panel B (late-time baseline) ----------------
const gBm = {xd:[6200,6438.5], yd:[0.4,1.8], iw:477, ih:310, ml:60, mt:10};
place(mkPlot(gBm, 562, 320, 25, 0, [
  ...dataMarks(moa, "black"), ...dataMarks(ogleI, "#ff0000"), ...dataMarks(ogleV, "#00ff00"),
  ...modelLines(tGridB, magB),
  Plot.frame({stroke: "black", strokeWidth: 1.2}),
  ...frameTicks(gBm, ticksB_x, d3.range(6200, 6431, 10), ticksB_y, d3.range(4, 19).map(v=>v/10), 10, 5),
  axY(ticksB_y, 11)
]), 545, 373);

const gBr = {xd:[6200,6438.5], yd:[-0.13,0.16], iw:477, ih:90, ml:60, mt:0};
place(mkPlot(gBr, 562, 137, 25, 47, [
  ...dataMarks(moaResB, "black"), ...dataMarks(ogleResB, "#ff0000"), ...dataMarks(vResB, "#00ff00"),
  ...modelLines(tGridBr, resB),
  Plot.frame({stroke: "black", strokeWidth: 1.2}),
  ...frameTicks(gBr, ticksB_x, d3.range(6200, 6431, 10), ticksBr_y, d3.range(-13, 17).map(v=>v/100), 10, 3),
  axX(ticksB_x), axY(ticksBr_y, 11),
  Plot.text(["HJD\u22122450000"], {frameAnchor: "bottom", dy: 39, fontFamily: SERIF, fontSize: 23})
]), 545, 693);
</script></body></html>
